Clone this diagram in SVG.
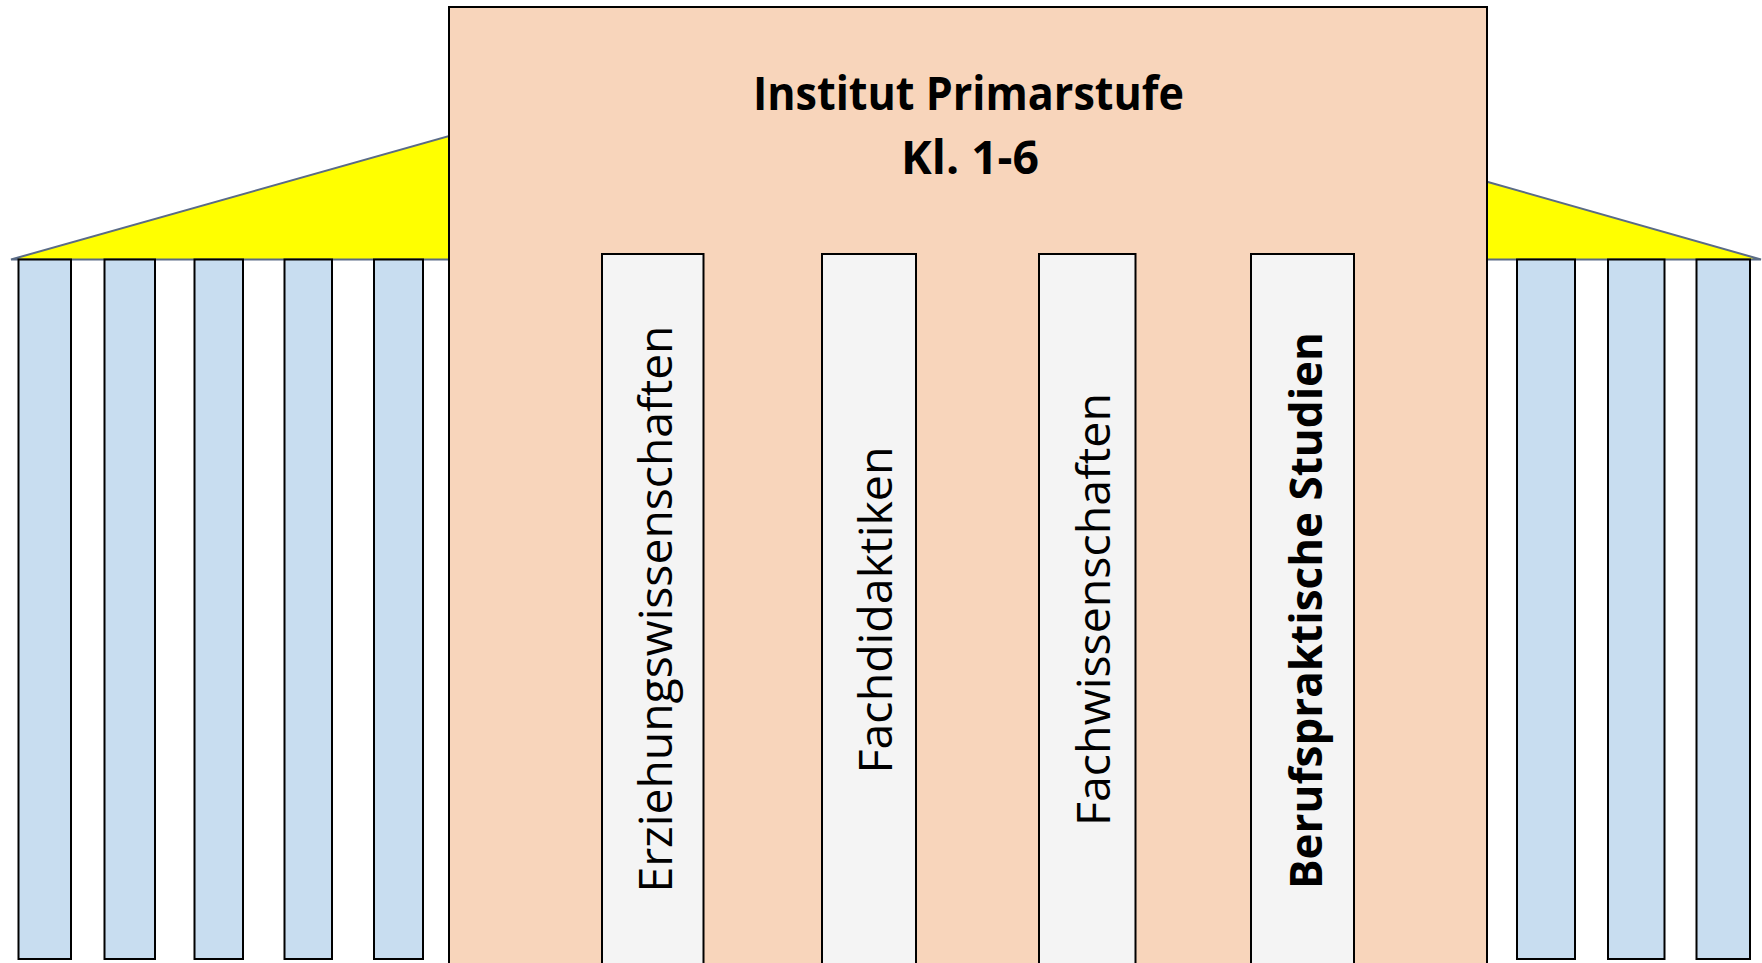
<svg xmlns="http://www.w3.org/2000/svg" width="1762" height="963" viewBox="0 0 1762 963">
<style>
.roof{fill:#FFFF00;stroke:#5A6B86;stroke-width:2}
.col{fill:#C8DDF0;stroke:#000;stroke-width:2}
.main{fill:#F8D5BB;stroke:#000;stroke-width:2}
.inner{fill:#F4F4F4;stroke:#000;stroke-width:2}
.title{font-family:"Open Sans","Liberation Sans",sans-serif;font-weight:bold;font-size:46px;fill:#000;text-anchor:middle}
.lbl{font-family:"Open Sans","Liberation Sans",sans-serif;font-size:45px;fill:#000}
.bold{font-weight:bold}
</style>
<rect width="1762" height="963" fill="#FFFFFF"/>
<g id="roof-left"><polygon class="roof" points="11,259.5 449,136 449,259.5"/></g>
<g id="roof-right"><polygon class="roof" points="1487,181.7 1761,259.5 1487,259.5"/></g>
<g id="columns-left">
<rect class="col" x="18.5" y="259.5" width="52.5" height="699.5"/>
<rect class="col" x="104.5" y="259.5" width="50.5" height="699.5"/>
<rect class="col" x="194.5" y="259.5" width="48.5" height="699.5"/>
<rect class="col" x="284.5" y="259.5" width="47.5" height="699.5"/>
<rect class="col" x="374" y="259.5" width="49" height="699.5"/>
</g>
<g id="columns-right">
<rect class="col" x="1517" y="259.5" width="58" height="699.5"/>
<rect class="col" x="1608" y="259.5" width="56.5" height="699.5"/>
<rect class="col" x="1696.5" y="259.5" width="53.5" height="699.5"/>
</g>
<g id="institut">
<rect class="main" x="449" y="7" width="1038" height="1000"/>
<text class="title" x="968.5" y="110" textLength="431" lengthAdjust="spacingAndGlyphs">Institut Primarstufe</text>
<text class="title" x="970" y="174" textLength="138" lengthAdjust="spacingAndGlyphs">Kl. 1-6</text>
</g>
<g id="erziehungswissenschaften">
<rect class="inner" x="602" y="254" width="101.5" height="760"/>
<text class="lbl" transform="translate(671.7,892.5) rotate(-90)" textLength="567" lengthAdjust="spacingAndGlyphs">Erziehungswissenschaften</text>
</g>
<g id="fachdidaktiken">
<rect class="inner" x="822" y="254" width="94" height="760"/>
<text class="lbl" transform="translate(891.7,773.5) rotate(-90)" textLength="327" lengthAdjust="spacingAndGlyphs">Fachdidaktiken</text>
</g>
<g id="fachwissenschaften">
<rect class="inner" x="1039" y="254" width="96.5" height="760"/>
<text class="lbl" transform="translate(1110,826) rotate(-90)" textLength="433" lengthAdjust="spacingAndGlyphs">Fachwissenschaften</text>
</g>
<g id="berufspraktische-studien">
<rect class="inner" x="1251" y="254" width="103" height="760"/>
<text class="lbl bold" transform="translate(1322,889) rotate(-90)" textLength="557" lengthAdjust="spacingAndGlyphs">Berufspraktische Studien</text>
</g>
<g id="connectors"></g>
</svg>
